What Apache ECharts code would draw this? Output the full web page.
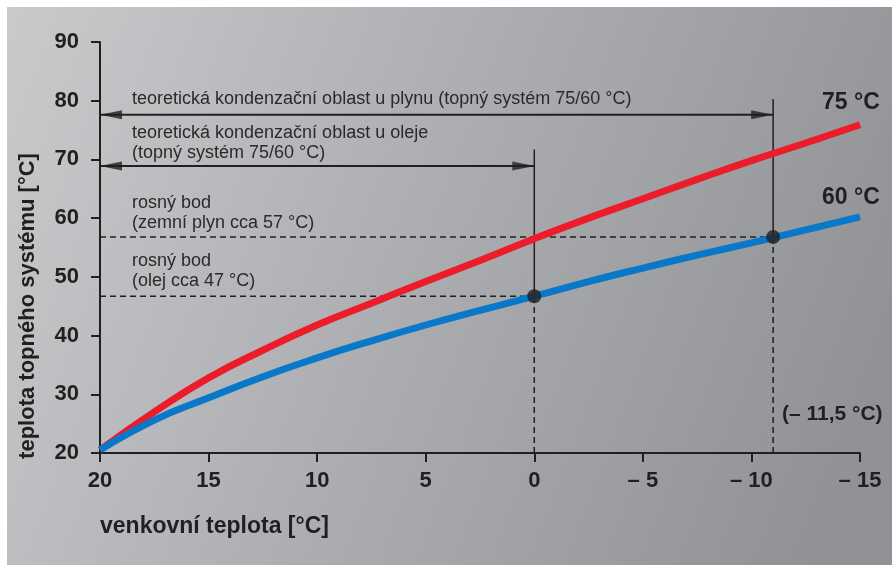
<!DOCTYPE html>
<html><head><meta charset="utf-8">
<script src="https://cdn.jsdelivr.net/npm/echarts@6/dist/echarts.min.js"></script>
<style>html,body{margin:0;padding:0;background:#fff}#c{width:892px;height:568px}</style>
</head><body><div id="c"></div>
<script>
const outdoor = [20, 17.5, 15, 12.5, 10, 7.5, 5, 2.5, 0, -2.5, -5, -7.5, -10, -12.5, -15];
const sys75 = [20.5, 27.0, 32.8, 37.5, 41.8, 45.5, 49.2, 52.8, 56.5, 60.0, 63.3, 66.6, 69.8, 72.8, 75.9];
const sys60 = [20.5, 25.6, 29.4, 33.0, 36.2, 39.1, 41.8, 44.3, 46.7, 49.2, 51.5, 53.7, 55.8, 58.0, 60.2];
const xTicks = [20, 15, 10, 5, 0, -5, -10, -15];
const dewGas = 56.8, dewOil = 46.7;
const xOil = 0, xGas = -11;
const arrowGasY = 77.6, arrowOilY = 68.9;
const vGasTop = 80.3, vOilTop = 71.7;

const ink = '#231f20';
const FONT = '"Liberation Sans", Arial, sans-serif';
const chart = echarts.init(document.getElementById('c'));
const pair = (xs, ys) => xs.map((x, i) => [x, ys[i]]);
const seg = (data, dashed, w) => ({
  type: 'line', data, symbol: 'none', silent: true, z: 3,
  lineStyle: {color: ink, width: w || 1.5, type: dashed ? [6, 4] : 'solid'}
});
const txt = (x, y, s, font) => ({type: 'text', x: x, y: y,
  style: {text: s, fill: font ? ink : '#2b2a2a', font: font || ('18px ' + FONT), verticalAlign: 'middle'}});
const head = (x, y, dir) => ({
  type: 'scatter', data: [[x, y]], symbol: 'triangle', symbolSize: [9, 22], silent: true, z: 5,
  symbolRotate: dir < 0 ? 90 : -90, symbolOffset: [dir < 0 ? 11 : -11, 0],
  itemStyle: {color: ink}
});

chart.setOption({
  animation: false,
  graphic: [
    {type: 'rect', left: 7, top: 7, z: -10, shape: {width: 885, height: 558},
     style: {fill: new echarts.graphic.LinearGradient(0, 0, 1, 0.6, [
       {offset: 0, color: '#c9cacc'}, {offset: 0.5, color: '#abadb0'}, {offset: 1, color: '#909295'}])}},
    txt(100, 527, 'venkovní teplota [°C]', 'bold 23px ' + FONT),
    {type: 'text', x: 28, y: 306, rotation: Math.PI / 2,
     style: {text: 'teplota topného systému [°C]', fill: ink, font: 'bold 22px ' + FONT, align: 'center', verticalAlign: 'middle'}},
    txt(132, 99, 'teoretická kondenzační oblast u plynu (topný systém 75/60 °C)'),
    txt(132, 133, 'teoretická kondenzační oblast u oleje'),
    txt(132, 153, '(topný systém 75/60 °C)'),
    txt(132, 203, 'rosný bod'),
    txt(132, 223, '(zemní plyn cca 57 °C)'),
    txt(132, 261, 'rosný bod'),
    txt(132, 281, '(olej cca 47 °C)'),
    txt(822, 103, '75 °C', 'bold 23px ' + FONT),
    txt(822, 198, '60 °C', 'bold 23px ' + FONT),
    txt(782, 414, '(– 11,5 °C)', 'bold 21px ' + FONT)
  ],
  grid: {left: 100, right: 32, top: 42, bottom: 115},
  xAxis: {
    type: 'value', inverse: true, min: -15, max: 20, interval: 5,
    splitLine: {show: false},
    axisLine: {onZero: false, lineStyle: {color: ink, width: 2}},
    axisTick: {length: 9, lineStyle: {color: ink, width: 2}},
    axisLabel: {color: ink, fontFamily: FONT, fontWeight: 'bold', fontSize: 22, margin: 17,
      formatter: v => v < 0 ? '– ' + Math.abs(v) : String(v)}
  },
  yAxis: {
    type: 'value', min: 20, max: 90, interval: 10,
    splitLine: {show: false},
    axisLine: {show: true, onZero: false, lineStyle: {color: ink, width: 2}},
    axisTick: {show: true, length: 9, lineStyle: {color: ink, width: 2}},
    axisLabel: {color: ink, fontFamily: FONT, fontWeight: 'bold', fontSize: 22, margin: 21}
  },
  series: [
    seg([[20, dewGas], [xGas, dewGas]], true),
    seg([[20, dewOil], [xOil, dewOil]], true),
    seg([[xOil, 20], [xOil, dewOil]], true),
    seg([[xGas, 20], [xGas, dewGas]], true),
    seg([[xOil, dewOil], [xOil, vOilTop]], false),
    seg([[xGas, dewGas], [xGas, vGasTop]], false),
    seg([[20, arrowGasY], [xGas, arrowGasY]], false, 2),
    seg([[20, arrowOilY], [xOil, arrowOilY]], false, 2),
    head(20, arrowGasY, -1), head(xGas, arrowGasY, 1),
    head(20, arrowOilY, -1), head(xOil, arrowOilY, 1),
    {type: 'line', data: pair(outdoor, sys75), smooth: true, symbol: 'none', z: 4,
     lineStyle: {color: '#ec1c2a', width: 7}},
    {type: 'line', data: pair(outdoor, sys60), smooth: true, symbol: 'none', z: 4,
     lineStyle: {color: '#0a78c8', width: 7}},
    {type: 'scatter', data: [[xOil, dewOil], [xGas, dewGas]], symbolSize: 14, z: 6,
     itemStyle: {color: ink}}
  ]
});
</script></body></html>
